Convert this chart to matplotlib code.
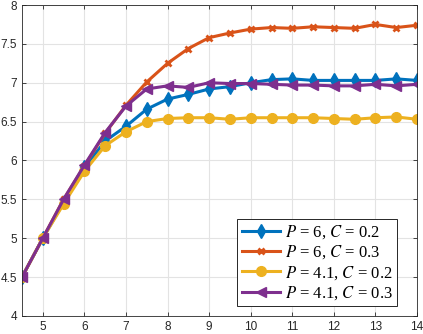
import numpy as np
import matplotlib.pyplot as plt

plt.rcParams['font.family'] = ['Liberation Sans', 'DejaVu Sans']
plt.rcParams['mathtext.fontset'] = 'stix'

# datos
x = [4.5, 5, 5.5, 6, 6.5, 7, 7.5, 8, 8.5, 9, 9.5, 10, 10.5, 11, 11.5, 12, 12.5, 13, 13.5, 14]
p6_c02 = [4.5, 5.0, 5.46, 5.91, 6.25, 6.44, 6.66, 6.79, 6.85, 6.92, 6.95, 7.00, 7.04, 7.05, 7.03, 7.03, 7.03, 7.03, 7.05, 7.03]
p6_c03 = [4.5, 5.0, 5.5, 5.93, 6.35, 6.71, 7.01, 7.25, 7.44, 7.58, 7.64, 7.69, 7.71, 7.70, 7.72, 7.71, 7.70, 7.75, 7.71, 7.74]
p41_c02 = [4.5, 5.0, 5.44, 5.86, 6.19, 6.37, 6.50, 6.54, 6.55, 6.55, 6.53, 6.55, 6.55, 6.55, 6.55, 6.54, 6.53, 6.55, 6.56, 6.53]
p41_c03 = [4.5, 5.0, 5.5, 5.94, 6.36, 6.70, 6.92, 6.96, 6.94, 7.00, 6.99, 6.99, 6.98, 6.97, 6.97, 6.96, 6.96, 6.98, 6.96, 6.98]

series = [
    (p6_c02, '#0072BD', 'd', 7, r'$P$ = 6, $C$ = 0.2'),
    (p6_c03, '#D95319', 'x', 5, r'$P$ = 6, $C$ = 0.3'),
    (p41_c02, '#EDB120', 'o', 7, r'$P$ = 4.1, $C$ = 0.2'),
    (p41_c03, '#7E2F8E', '<', 7, r'$P$ = 4.1, $C$ = 0.3'),
]

fig = plt.figure(figsize=(4.23, 3.34), dpi=100)
ax = fig.add_axes([0.052, 0.054, 0.934, 0.931])

for y, color, marker, size, label in series:
    ax.plot(x, y, color=color, marker=marker, lw=2.2, ms=size,
            mew=2 if marker == 'x' else 1, label=label)

ax.set_xlim(4.5, 14)
ax.set_ylim(4, 8)
ax.set_xticks(np.arange(5, 15, 1))
ax.set_yticks(np.arange(4, 8.01, 0.5))
ax.set_yticklabels(['4', '4.5', '5', '5.5', '6', '6.5', '7', '7.5', '8'])
ax.grid(True, color='#e3e3e3', lw=0.8)
ax.set_axisbelow(True)
ax.tick_params(direction='in', top=True, right=True, labelsize=8.5, colors='#262626',
               length=3, width=0.6)
for s in ax.spines.values():
    s.set_color('#262626')
    s.set_linewidth(0.6)

leg = ax.legend(loc='lower right', bbox_to_anchor=(0.949, 0.032), borderaxespad=0,
                prop={'family': 'Liberation Serif', 'size': 12},
                fancybox=False, edgecolor='#262626', framealpha=1,
                handlelength=2.3, handletextpad=0.3, labelspacing=0.15, borderpad=0.25)
leg.get_frame().set_linewidth(0.7)

fig.savefig('out.png', dpi=100)
